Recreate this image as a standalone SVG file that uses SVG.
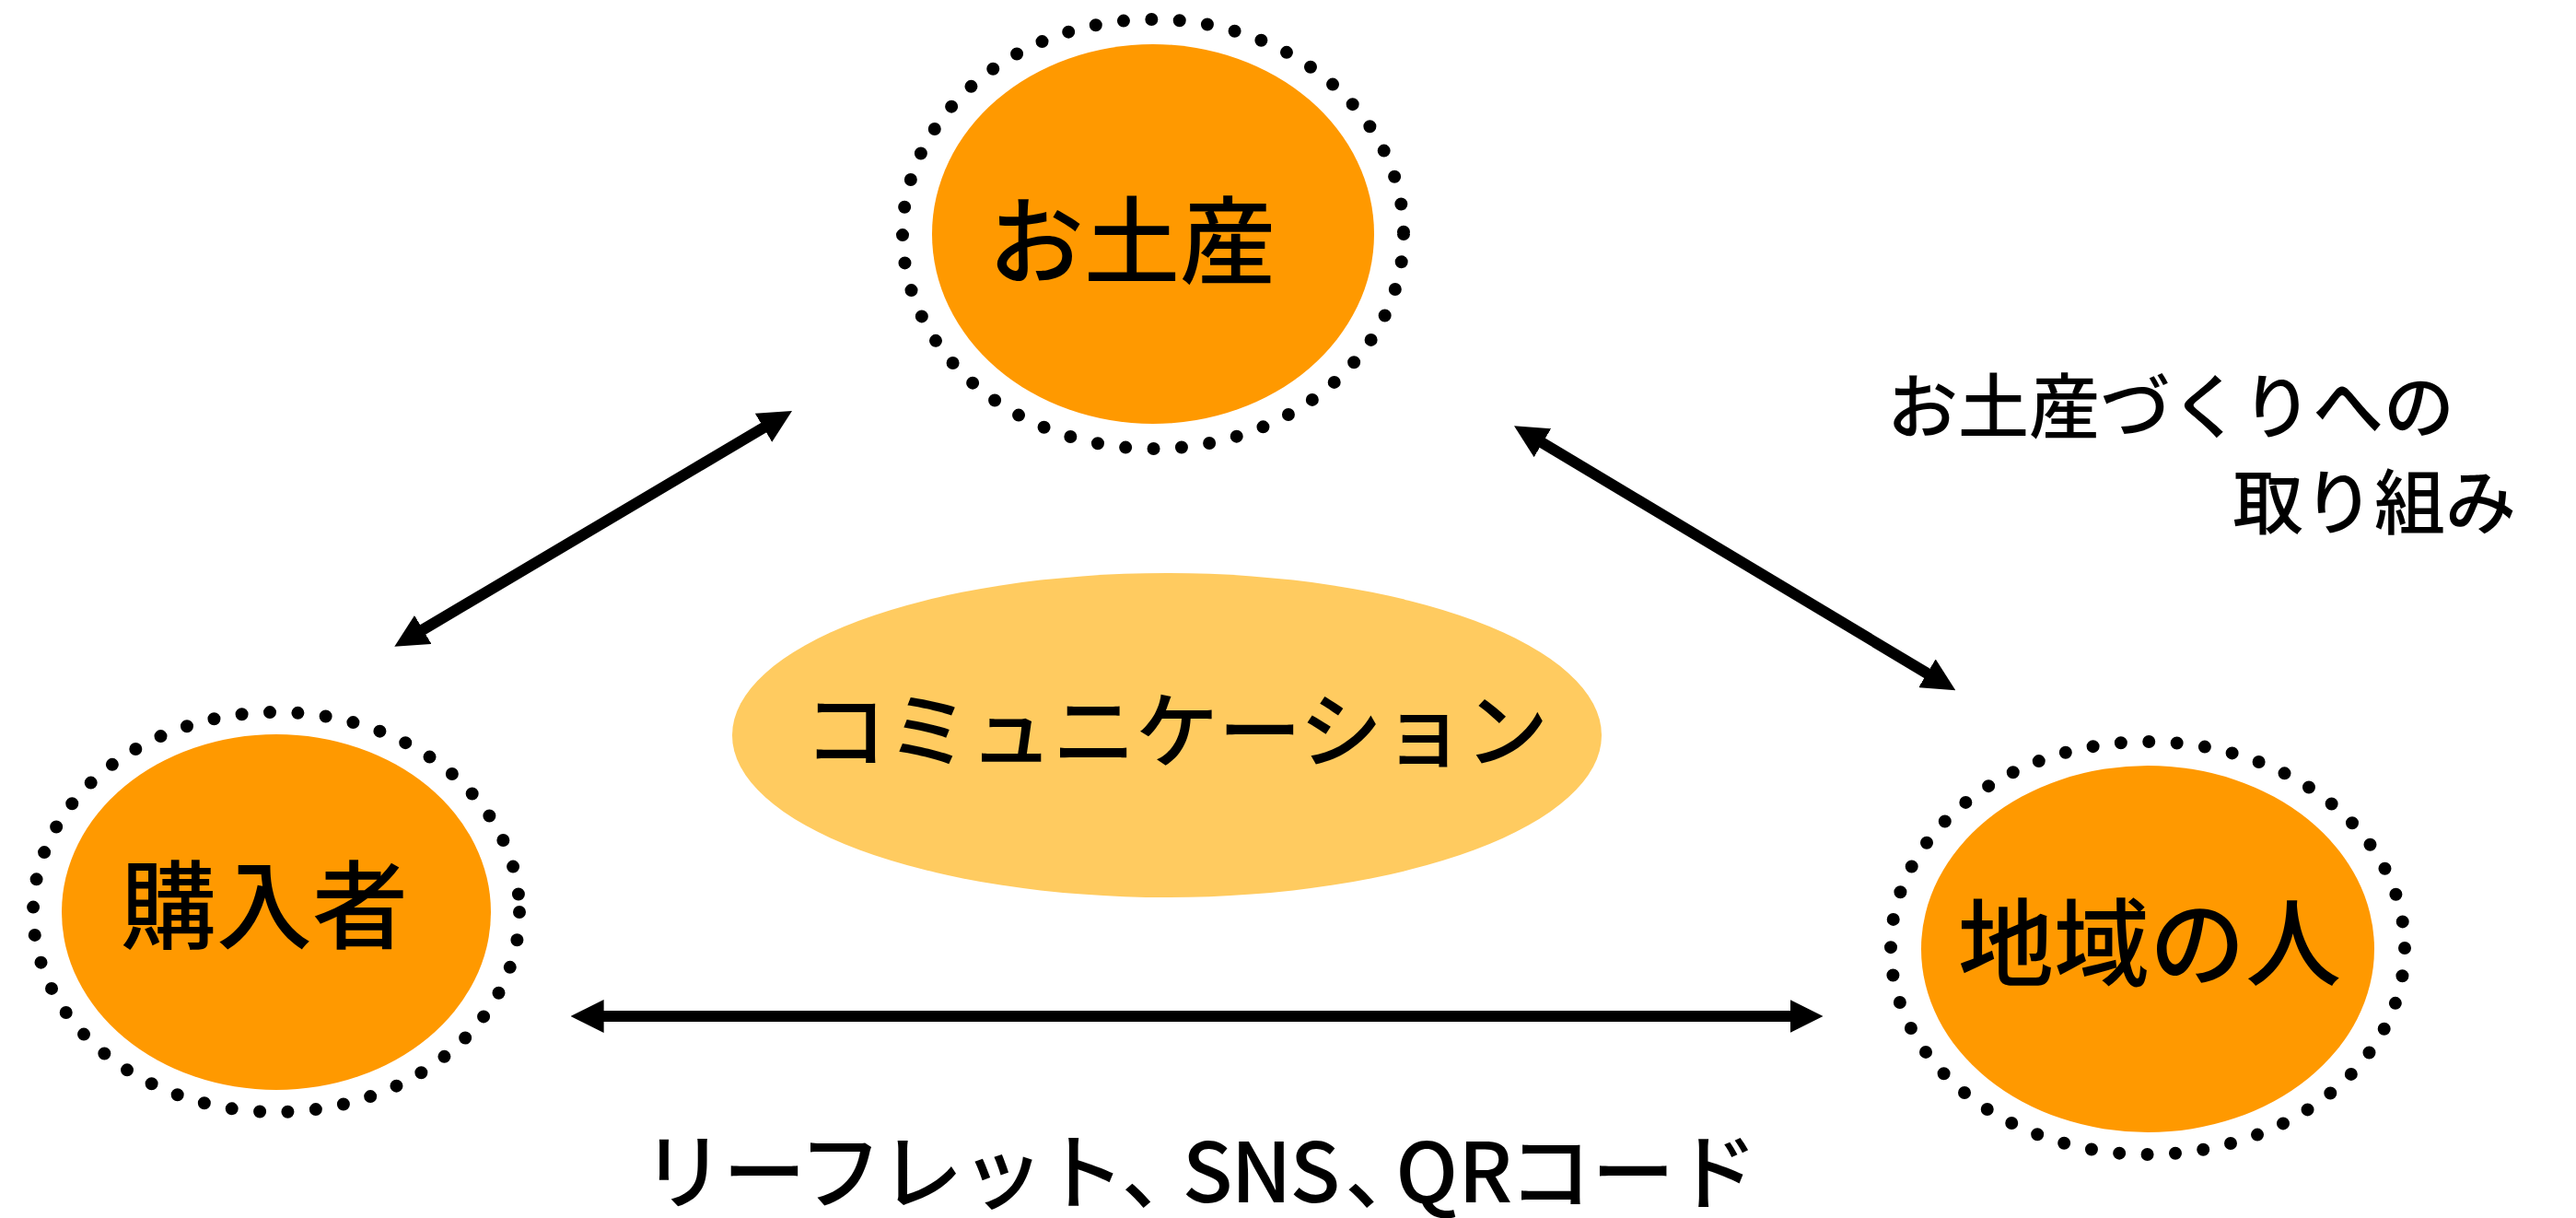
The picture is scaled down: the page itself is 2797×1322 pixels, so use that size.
<svg xmlns="http://www.w3.org/2000/svg" width="2797" height="1322" viewBox="0 0 2797 1322">
<style>
.ring{fill:none;stroke:#000;stroke-width:14;stroke-linecap:round;stroke-dasharray:0 30.5}
.core{fill:#FF9900}
.comm{fill:#FFCB60}
.lbl{font-family:"Noto Sans CJK JP","Noto Sans",sans-serif;font-weight:500;fill:#000;text-anchor:middle}
.big{font-size:104px}
.mid{font-size:90px}
.cap{font-size:77px}
.bot{font-size:90px;font-family:"Noto Sans CJK JP","Noto Sans",sans-serif;font-weight:500;fill:#000}
.arr{stroke:#000;stroke-width:12;fill:none;marker-start:url(#ah);marker-end:url(#ah)}
</style>
<defs>
<marker id="ah" viewBox="0 0 3 3" refX="1" refY="1.5" markerWidth="3" markerHeight="3" markerUnits="strokeWidth" orient="auto-start-reverse">
<path d="M0,0 L3,1.5 L0,3 z" fill="#000"/>
</marker>
</defs>
<rect width="2797" height="1322" fill="#fff"/>
<g id="node-omiyage">
<ellipse class="ring" cx="1252" cy="254" rx="272" ry="233"/>
<ellipse class="core" cx="1252" cy="254" rx="240" ry="206"/>
<text class="lbl big" x="1229" y="301">お土産</text>
</g>
<g id="node-buyer">
<ellipse class="ring" cx="300" cy="990" rx="264" ry="217"/>
<ellipse class="core" cx="300" cy="990" rx="233" ry="193"/>
<text class="lbl big" x="287" y="1022">購入者</text>
</g>
<g id="node-local">
<ellipse class="ring" cx="2332" cy="1029" rx="279" ry="224"/>
<ellipse class="core" cx="2332" cy="1030" rx="246" ry="199"/>
<text class="lbl big" x="2334" y="1063">地域の人</text>
</g>
<g id="node-communication">
<ellipse class="comm" cx="1267" cy="798" rx="472" ry="176"/>
<text class="lbl mid" x="1277" y="826">コミュニケーション</text>
</g>
<g id="connectors">
<line class="arr" x1="448.95" y1="689.5" x2="839.35" y2="458.2"/>
<line class="arr" x1="1664.6" y1="474.6" x2="2102.7" y2="737.0"/>
<line class="arr" x1="643.6" y1="1103" x2="1955.5" y2="1103"/>
</g>
<g id="label-effort">
<text class="lbl cap" x="2357" y="470">お土産づくりへの</text>
<text class="lbl cap" x="2578" y="574">取り組み</text>
</g>
<g id="label-media">
<text class="bot" x="697" y="1305" dx="0 -2 -2 -2 -2 -2 -2 -24 -2 -2 5 -35 0 -4 0 0">リーフレット、SNS、QRコード</text>
</g>
</svg>
